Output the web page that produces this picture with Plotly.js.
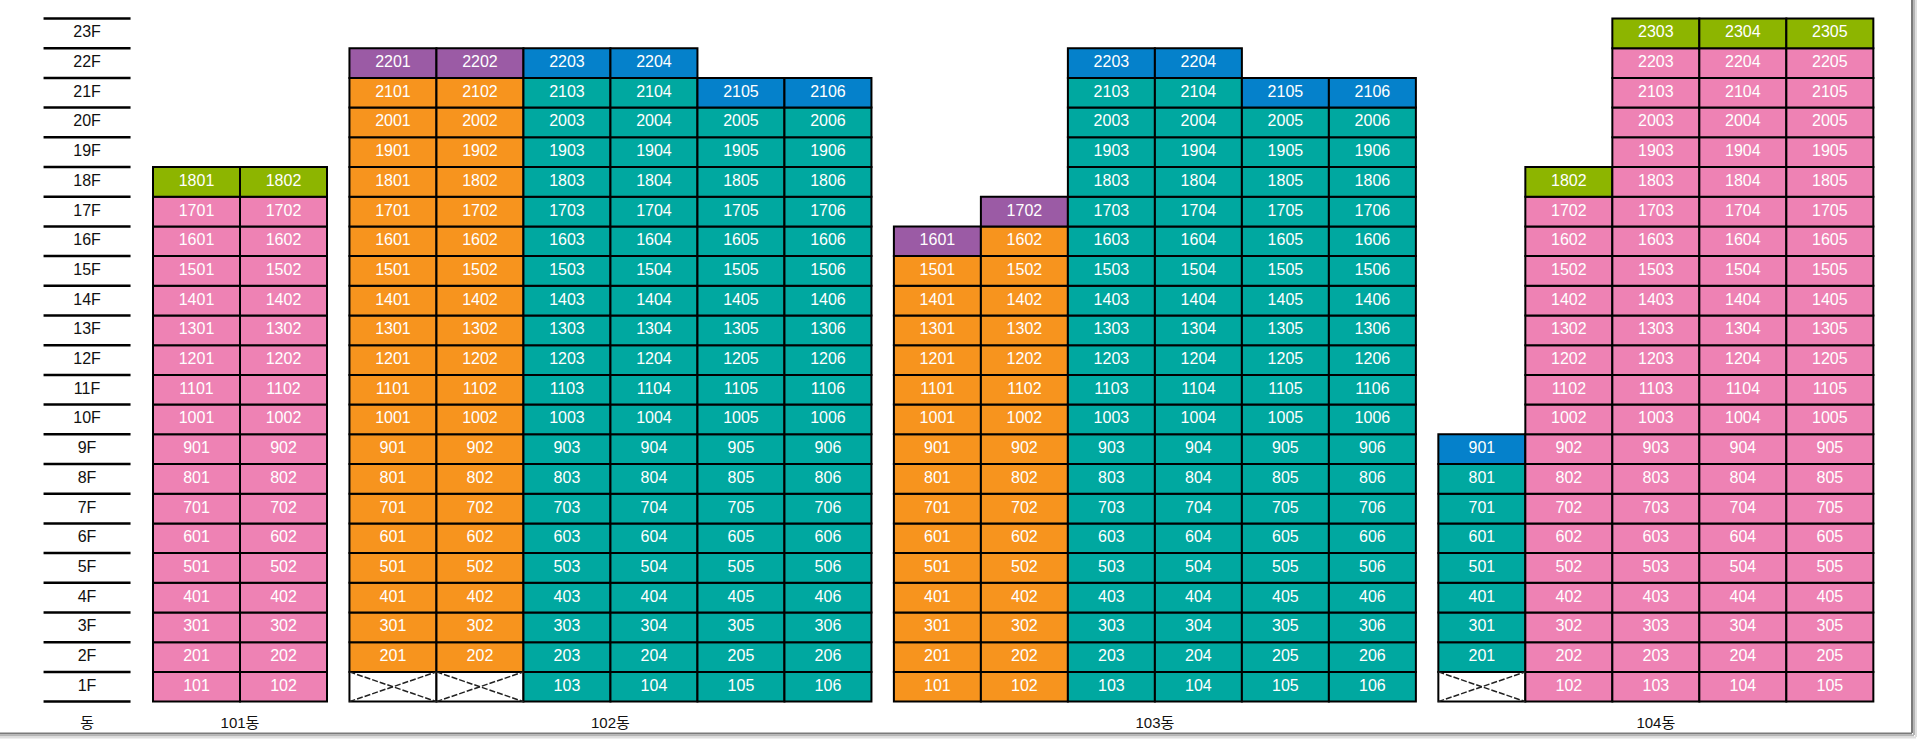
<!DOCTYPE html>
<html>
<head>
<meta charset="utf-8">
<script src="https://cdn.plot.ly/plotly-3.0.1.min.js"></script>
<style>
html,body{margin:0;padding:0;background:#fff;}
#chart{width:1920px;height:742px;}
</style>
</head>
<body>
<div id="chart"></div>
<script>
// ---------- data ----------
const buildingNames = ['101동', '102동', '103동', '104동'];
const cornerLabel = '동';
const floorLabels = ['1F','2F','3F','4F','5F','6F','7F','8F','9F','10F','11F','12F',
                     '13F','14F','15F','16F','17F','18F','19F','20F','21F','22F','23F'];
// columns (lines of units), left to right
const colBuilding  = [0,0, 1,1,1,1,1,1, 2,2,2,2,2,2, 3,3,3,3,3];
const colUnit      = [1,2, 1,2,3,4,5,6, 1,2,3,4,5,6, 1,2,3,4,5];
const colLowFloor  = [1,1, 2,2,1,1,1,1, 1,1,1,1,1,1, 2,1,1,1,1];      // floors below are empty (X)
const colMainTop   = [17,17, 21,21,21,21,20,20, 15,16,21,21,20,20, 8,17,22,22,22];
const colMainType  = [0,0, 1,1,2,2,2,2, 1,1,2,2,2,2, 2,0,0,0,0];
const colTopType   = [4,4, 3,3,5,5,5,5, 3,3,5,5,5,5, 5,4,4,4,4];     // the single top floor
const typeColors   = ['#EE82B4','#F7941E','#00A8A0','#9B5BA5','#8DB500','#0581CB'];

// ---------- layout constants ----------
const G = 0.258;            // gap between buildings (in column widths)
const FONT = 'Liberation Sans, Arial, Noto Sans CJK KR, sans-serif';

const xCenter = colBuilding.map((b, i) => i + b * G + 0.5);

const cx = [], cy = [], cbase = [], ccol = [], tx = [], ty = [], tt = [];
const vx = [], vy = [];
colBuilding.forEach((b, i) => {
  const top = colMainTop[i] + 1;
  for (let f = 1; f <= top; f++) {
    const x = xCenter[i];
    cx.push(x); cy.push(1); cbase.push(f - 1);
    if (f < colLowFloor[i]) {
      ccol.push('#ffffff');
      vx.push(x - 0.5, x + 0.5, null, x - 0.5, x + 0.5, null);
      vy.push(f - 1, f, null, f, f - 1, null);
    } else {
      const t = f === top ? colTopType[i] : colMainType[i];
      ccol.push(typeColors[t]);
      tx.push(x); ty.push(f - 0.5);
      tt.push(String(f) + String(colUnit[i]).padStart(2, '0'));
    }
  }
});

const labelX = -0.5 - G;
const lx = [], ly = [];
for (let k = 0; k <= floorLabels.length; k++) {
  lx.push(-1 - G, -G, null); ly.push(k, k, null);
}

const bX = buildingNames.map((_, b) => {
  const xs = xCenter.filter((_, i) => colBuilding[i] === b);
  return (xs[0] + xs[xs.length - 1]) / 2;
});

const traces = [
  { type: 'bar', x: cx, y: cy, base: cbase, width: 1,
    marker: { color: ccol, line: { color: '#000', width: 2 } },
    hoverinfo: 'skip', showlegend: false },
  { type: 'scatter', mode: 'lines', x: vx, y: vy,
    line: { color: '#222', width: 1.5, dash: '6px,2px' },
    hoverinfo: 'skip', showlegend: false },
  { type: 'scatter', mode: 'text', x: tx, y: ty, text: tt,
    textfont: { color: '#ffffff', size: 16, family: FONT },
    hoverinfo: 'skip', showlegend: false },
  { type: 'scatter', mode: 'lines', x: lx, y: ly,
    line: { color: '#000', width: 2.5 }, hoverinfo: 'skip', showlegend: false },
  { type: 'scatter', mode: 'text', x: floorLabels.map(() => labelX),
    y: floorLabels.map((_, k) => k + 0.5), text: floorLabels,
    textfont: { color: '#111', size: 16, family: FONT },
    hoverinfo: 'skip', showlegend: false },
  { type: 'scatter', mode: 'text', x: [labelX].concat(bX),
    y: [cornerLabel].concat(buildingNames).map(() => -0.75),
    text: [cornerLabel].concat(buildingNames),
    textfont: { color: '#111', size: 15, family: FONT },
    hoverinfo: 'skip', showlegend: false }
];

const PX_COL = 87, X0PX = 153, ROWPX = 29.7, Y0PX = 701.6, W = 1920, H = 742;
const shadow = [];
[[1912, '#7a7a7a'], [1914, '#b5b5b5'], [1916, '#dedede']].forEach(([p, c]) => {
  shadow.push({ type: 'line', xref: 'paper', yref: 'paper',
    x0: p / W, x1: p / W, y0: 1, y1: 1 - (733 + (p - 1912)) / H,
    line: { color: c, width: 2 } });
});
[[733.5, '#7a7a7a'], [735.5, '#b5b5b5'], [737.5, '#dedede']].forEach(([p, c]) => {
  shadow.push({ type: 'line', xref: 'paper', yref: 'paper',
    x0: 0, x1: (1912 + (p - 733.5)) / W, y0: 1 - p / H, y1: 1 - p / H,
    line: { color: c, width: 2 } });
});

const layout = {
  width: W, height: H,
  margin: { l: 0, r: 0, t: 0, b: 0, pad: 0 },
  paper_bgcolor: '#ffffff', plot_bgcolor: '#ffffff',
  barmode: 'overlay',
  showlegend: false,
  xaxis: { range: [-X0PX / PX_COL, (W - X0PX) / PX_COL], showgrid: false, zeroline: false,
           showticklabels: false, showline: false, ticks: '', fixedrange: true },
  yaxis: { range: [-(H - Y0PX) / ROWPX, Y0PX / ROWPX], showgrid: false, zeroline: false,
           showticklabels: false, showline: false, ticks: '', fixedrange: true },
  shapes: shadow
};

Plotly.newPlot('chart', traces, layout, { displayModeBar: false, staticPlot: true });
</script>
</body>
</html>
